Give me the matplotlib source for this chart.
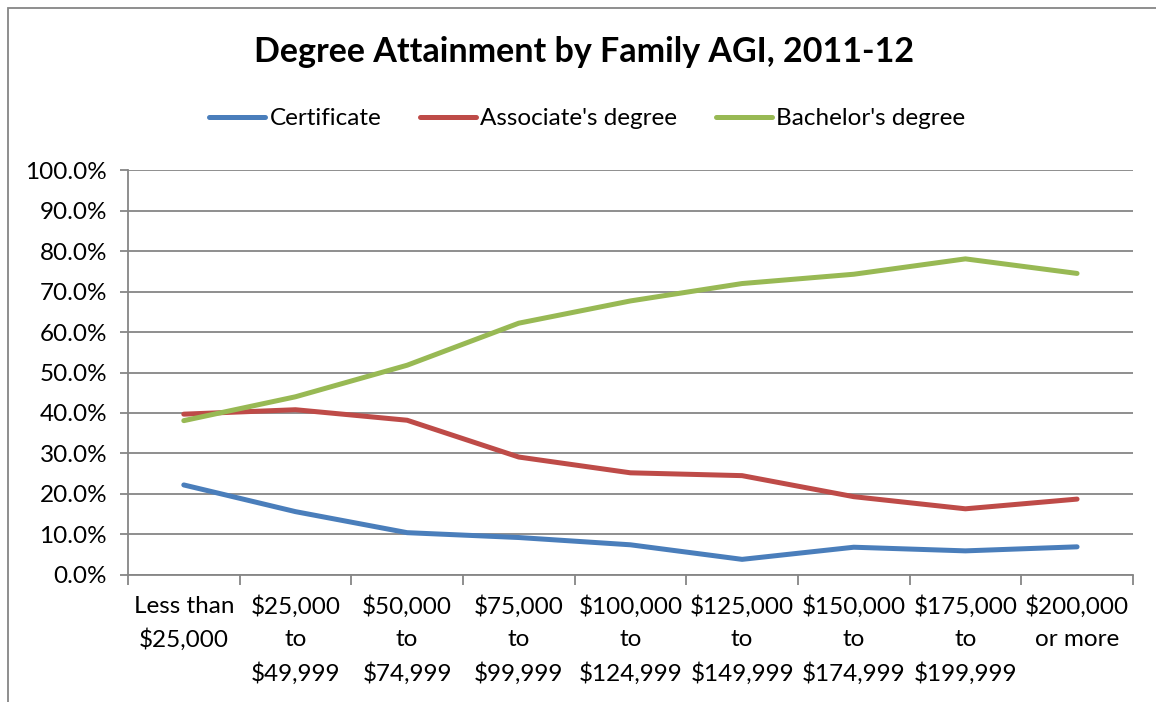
import matplotlib.pyplot as plt
from matplotlib.patches import Rectangle
from matplotlib.ticker import FixedLocator, PercentFormatter

# income brackets (x axis)
categories = ["Less than\n$25,000", "$25,000\nto\n$49,999", "$50,000\nto\n$74,999",
              "$75,000\nto\n$99,999", "$100,000\nto\n$124,999", "$125,000\nto\n$149,999",
              "$150,000\nto\n$174,999", "$175,000\nto\n$199,999", "$200,000\nor more"]

certificate = [22.2, 15.6, 10.4, 9.2, 7.4, 3.8, 6.8, 5.9, 6.9]
associates = [39.7, 40.8, 38.2, 29.1, 25.2, 24.5, 19.3, 16.3, 18.7]
bachelors = [38.1, 44.0, 51.8, 62.2, 67.7, 72.0, 74.3, 78.1, 74.5]

series_names = ["Certificate", "Associate's degree", "Bachelor's degree"]
colors = ["#4A7EBB", "#BE4B48", "#98B954"]

plt.rcParams['font.family'] = ['Lato', 'DejaVu Sans']

fig = plt.figure(figsize=(11.56, 7.02), dpi=100)
ax = fig.add_axes([0.1107, 0.1813, 0.8693, 0.5761])

x = list(range(len(categories)))
for vals, name, c in zip([certificate, associates, bachelors], series_names, colors):
    ax.plot(x, vals, color=c, lw=3.6, label=name, solid_capstyle="round")

ax.set_xlim(-0.5, len(categories) - 0.5)
ax.set_ylim(0, 100)
ax.set_yticks(range(0, 101, 10))
ax.yaxis.set_major_formatter(PercentFormatter(decimals=1))
ax.grid(axis="y", color="#868686", lw=1.3)
ax.set_axisbelow(True)

ax.set_xticks(x)
ax.set_xticklabels(categories, fontsize=17.5, linespacing=1.65)
ax.xaxis.set_minor_locator(FixedLocator([i - 0.5 for i in range(len(categories) + 1)]))
ax.tick_params(axis="x", which="major", length=0, pad=15)
ax.tick_params(axis="x", which="minor", length=7, color="#868686", width=1.3)
ax.tick_params(axis="y", labelsize=17.5, length=6, color="#868686", width=1.3, pad=9)

for s in ["top", "right"]:
    ax.spines[s].set_visible(False)
for s in ["left", "bottom"]:
    ax.spines[s].set_color("#868686")
    ax.spines[s].set_linewidth(1.3)

fig.text(0.5056, 0.926, "Degree Attainment by Family AGI, 2011-12",
         ha="center", va="center", fontsize=24.5, fontweight="bold")

fig.legend(loc="center", bbox_to_anchor=(0.508, 0.831), ncol=3, frameon=False,
           fontsize=17.5, handlelength=2.3, handletextpad=0.17, columnspacing=1.6)

# outer chart border
fig.add_artist(Rectangle((0.007, -0.01), 1.1, 0.999, transform=fig.transFigure,
                         fill=False, edgecolor="#868686", lw=1.3))

fig.savefig("out.png", dpi=100)
